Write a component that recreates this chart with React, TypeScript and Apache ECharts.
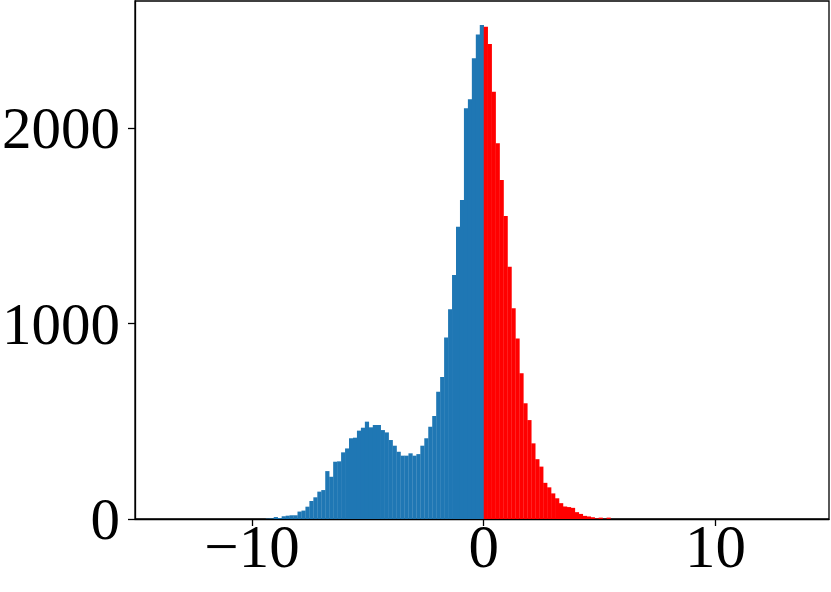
import React, { useEffect, useRef } from "react";
import * as echarts from "echarts";

const binWidth = 0.171;
const xTicks = [-10, 0, 10];
const yTicks = [0, 1000, 2000];

// counts of negative-side bins, from leftmost bin up to the bin ending at 0
const blueCounts = [
  2, 3, 10, 5, 14, 17, 19, 19, 38, 43, 63, 92, 111, 140, 148, 245, 216, 293, 295,
  341, 361, 413, 416, 452, 467, 498, 469, 481, 481, 455, 443, 404, 375, 344, 324,
  324, 336, 324, 332, 375, 413, 472, 527, 651, 726, 928, 1073, 1248, 1495, 1632,
  2101, 2147, 2357, 2479, 2527,
];

// counts of positive-side bins, from the bin starting at 0 rightwards
const redCounts = [
  2518, 2430, 2186, 1922, 1734, 1550, 1291, 1078, 924, 745, 592, 506, 387, 306,
  268, 185, 162, 131, 106, 81, 64, 61, 57, 35, 26, 16, 13, 9, 3, 7, 1, 7,
];

const blueData = blueCounts.map((c, i) => [
  -(blueCounts.length - i) * binWidth,
  -(blueCounts.length - i - 1) * binWidth,
  c,
]);
const redData = redCounts.map((c, i) => [i * binWidth, (i + 1) * binWidth, c]);

const makeRender = (color: string) => (params: any, api: any) => {
  const p0 = api.coord([api.value(0), api.value(2)]);
  const p1 = api.coord([api.value(1), 0]);
  return {
    type: "rect",
    shape: {
      x: p0[0],
      y: p0[1],
      width: p1[0] - p0[0] + 0.25,
      height: p1[1] - p0[1],
    },
    style: { fill: color },
  };
};

const FONT = "'Liberation Serif', 'DejaVu Serif', serif";

export default function App() {
  const ref = useRef<HTMLDivElement>(null);
  useEffect(() => {
    document.body.style.margin = "0";
    const chart = echarts.init(ref.current!, null, { renderer: "svg" });
    chart.setOption({
      animation: false,
      backgroundColor: "#ffffff",
      grid: {
        left: 135,
        right: 2,
        top: 1,
        bottom: 73,
        show: true,
        borderColor: "#000",
        borderWidth: 1.3,
        outerBoundsMode: "none",
      } as any,
      xAxis: {
        type: "value",
        min: -15.05,
        max: 14.9,
        interval: 5,
        splitLine: { show: false },
        axisLine: { show: true, onZero: false, lineStyle: { color: "#000", width: 1.3 } },
        axisTick: {
          show: true,
          length: 7,
          inside: false,
          customValues: xTicks,
          lineStyle: { color: "#000", width: 1.3 },
        },
        axisLabel: {
          customValues: xTicks,
          margin: -3,
          fontFamily: FONT,
          fontSize: 61,
          color: "#000",
          formatter: (v: number) => (v < 0 ? "\u2212" + Math.abs(v) : String(v)),
        },
      } as any,
      yAxis: {
        type: "value",
        min: 0,
        max: 2650,
        splitLine: { show: false },
        axisLine: { show: true, onZero: false, lineStyle: { color: "#000", width: 1.3 } },
        axisTick: {
          show: true,
          length: 7,
          customValues: yTicks,
          lineStyle: { color: "#000", width: 1.3 },
        },
        axisLabel: {
          customValues: yTicks,
          margin: 15,
          fontFamily: FONT,
          fontSize: 59,
          color: "#000",
          formatter: (v: number) => String(v),
        },
      } as any,
      series: [
        {
          type: "custom",
          renderItem: makeRender("#1f77b4"),
          encode: { x: [0, 1], y: 2 },
          data: blueData,
          clip: true,
        },
        {
          type: "custom",
          renderItem: makeRender("#ff0000"),
          encode: { x: [0, 1], y: 2 },
          data: redData,
          clip: true,
        },
      ],
    });
    return () => chart.dispose();
  }, []);
  return (
    <div
      ref={ref}
      style={{ position: "fixed", left: 0, top: 0, width: 831, height: 592 }}
    />
  );
}
